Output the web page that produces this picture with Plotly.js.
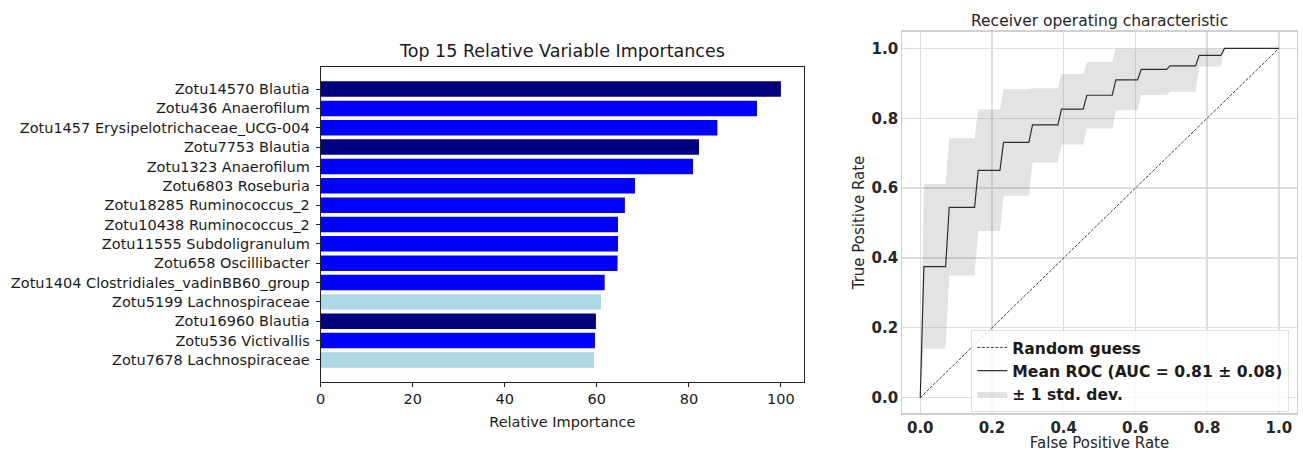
<!DOCTYPE html>
<html>
<head>
<meta charset="utf-8">
<script src="https://cdn.plot.ly/plotly-3.0.1.min.js"></script>
<style>html,body{margin:0;padding:0;background:#fff;}#chart{width:1303px;height:452px;}</style>
</head>
<body>
<div id="chart"></div>
<script>
// ---- Left chart: variable importances (top to bottom) ----
var features = [
  "Zotu14570 Blautia",
  "Zotu436 Anaerofilum",
  "Zotu1457 Erysipelotrichaceae_UCG-004",
  "Zotu7753 Blautia",
  "Zotu1323 Anaerofilum",
  "Zotu6803 Roseburia",
  "Zotu18285 Ruminococcus_2",
  "Zotu10438 Ruminococcus_2",
  "Zotu11555 Subdoligranulum",
  "Zotu658 Oscillibacter",
  "Zotu1404 Clostridiales_vadinBB60_group",
  "Zotu5199 Lachnospiraceae",
  "Zotu16960 Blautia",
  "Zotu536 Victivallis",
  "Zotu7678 Lachnospiraceae"
];
var importance = [100, 94.8, 86.2, 82.2, 80.9, 68.3, 66.1, 64.6, 64.6, 64.5, 61.7, 60.9, 59.8, 59.6, 59.4];
var barColors = ["#000080","#0000ff","#0000ff","#000080","#0000ff","#0000ff","#0000ff","#0000ff","#0000ff","#0000ff","#0000ff","#add8e6","#000080","#0000ff","#add8e6"];
var importanceTicks = [0, 20, 40, 60, 80, 100];

// ---- Right chart: ROC ----
var rocFpr   = [0, 0.0101, 0.0707, 0.0808, 0.1515, 0.1616, 0.2222, 0.2323, 0.3030, 0.3131, 0.3838, 0.3939, 0.4545, 0.4646, 0.5354, 0.5455, 0.6061, 0.6162, 0.6869, 0.6970, 0.7677, 0.7778, 0.8384, 0.8485, 1.0];
var meanTpr  = [0, 0.375, 0.375, 0.545, 0.545, 0.651, 0.651, 0.731, 0.731, 0.781, 0.781, 0.826, 0.826, 0.866, 0.866, 0.910, 0.910, 0.940, 0.940, 0.950, 0.950, 0.980, 0.980, 1.0, 1.0];
var upperTpr = [0, 0.612, 0.612, 0.743, 0.743, 0.825, 0.825, 0.883, 0.883, 0.886, 0.886, 0.927, 0.927, 0.961, 0.961, 1.0, 1.0, 1.0, 1.0, 1.0, 1.0, 1.0, 1.0, 1.0, 1.0];
var lowerTpr = [0, 0.140, 0.140, 0.350, 0.350, 0.477, 0.477, 0.578, 0.578, 0.673, 0.673, 0.725, 0.725, 0.771, 0.771, 0.823, 0.823, 0.867, 0.867, 0.876, 0.876, 0.948, 0.948, 1.0, 1.0];
var chanceX = [0, 1];
var chanceY = [0, 1];
var rocTicks = [0, 0.2, 0.4, 0.6, 0.8, 1.0];

var FONT = "DejaVu Sans, sans-serif";

var traces = [
  {
    type: "bar", orientation: "h",
    x: importance, y: features,
    marker: {color: barColors, line: {width: 0}},
    width: 0.8,
    xaxis: "x", yaxis: "y",
    showlegend: false, hoverinfo: "x+y"
  },
  {
    type: "scatter", mode: "lines",
    x: rocFpr, y: lowerTpr,
    line: {width: 0, color: "rgba(0,0,0,0)"},
    xaxis: "x2", yaxis: "y2",
    showlegend: false, hoverinfo: "skip"
  },
  {
    type: "scatter", mode: "lines",
    x: rocFpr, y: upperTpr,
    fill: "tonexty", fillcolor: "rgba(128,128,128,0.22)",
    line: {width: 0, color: "rgba(0,0,0,0)"},
    name: "± 1 std. dev.", legendrank: 3,
    xaxis: "x2", yaxis: "y2"
  },
  {
    type: "scatter", mode: "lines",
    x: chanceX, y: chanceY,
    line: {color: "rgba(0,0,0,0.85)", width: 0.9, dash: "3px,1.5px"},
    name: "Random guess", legendrank: 1,
    xaxis: "x2", yaxis: "y2"
  },
  {
    type: "scatter", mode: "lines",
    x: rocFpr, y: meanTpr,
    line: {color: "rgba(0,0,0,0.8)", width: 1.2},
    name: "Mean ROC (AUC = 0.81 ± 0.08)", legendrank: 2,
    xaxis: "x2", yaxis: "y2"
  }
];

var layout = {
  width: 1303, height: 452,
  margin: {l: 0, r: 0, t: 0, b: 0},
  paper_bgcolor: "#ffffff", plot_bgcolor: "#ffffff",
  font: {family: FONT, color: "#1a1a1a"},
  bargap: 0.2,
  xaxis: {
    domain: [0.2461, 0.617], anchor: "y",
    range: [0, 105],
    tickvals: importanceTicks,
    ticks: "outside", ticklen: 4, tickcolor: "#222", tickwidth: 1,
    showline: true, mirror: true, linecolor: "#222", linewidth: 1,
    showgrid: false, zeroline: false,
    tickfont: {family: FONT, size: 14.5, color: "#1a1a1a"},
    title: {text: "Relative Importance", font: {family: FONT, size: 14.5, color: "#1a1a1a"}, standoff: 10}
  },
  yaxis: {
    domain: [0.1549, 0.8518], anchor: "x",
    type: "category",
    range: [15.14, -1.14],
    ticks: "outside", ticklen: 4, tickcolor: "#222", tickwidth: 1,
    ticklabelstandoff: 3,
    showline: true, mirror: true, linecolor: "#222", linewidth: 1,
    showgrid: false, zeroline: false,
    tickfont: {family: FONT, size: 14.5, color: "#1a1a1a"}
  },
  xaxis2: {
    domain: [0.6925, 0.9952], anchor: "y2",
    range: [-0.05, 1.05],
    tickvals: rocTicks, tickformat: ".1f",
    ticks: "", showline: true, mirror: true, linecolor: "#d0d0d0", linewidth: 1.2,
    showgrid: true, gridcolor: "#dedede", gridwidth: 1.4, zeroline: false,
    tickfont: {family: FONT, size: 15, color: "#262626", weight: "bold"},
    title: {text: "False Positive Rate", font: {family: FONT, size: 15, color: "#262626"}, standoff: 6}
  },
  yaxis2: {
    domain: [0.0856, 0.9299], anchor: "x2",
    range: [-0.045, 1.048],
    tickvals: rocTicks, tickformat: ".1f",
    ticks: "", showline: true, mirror: true, linecolor: "#d0d0d0", linewidth: 1.2,
    showgrid: true, gridcolor: "#dedede", gridwidth: 1.4, zeroline: false,
    tickfont: {family: FONT, size: 15, color: "#262626", weight: "bold"},
    title: {text: "True Positive Rate", font: {family: FONT, size: 15, color: "#262626"}, standoff: 3}
  },
  legend: {
    x: 0.9895, y: 0.089, xanchor: "right", yanchor: "bottom",
    bgcolor: "rgba(255,255,255,0.8)", bordercolor: "#e0e0e0", borderwidth: 1,
    font: {family: FONT, size: 15.6, color: "#1a1a1a", weight: "bold"},
    traceorder: "normal", tracegroupgap: 0, itemwidth: 30
  },
  annotations: [
    {
      text: "Top 15 Relative Variable Importances",
      xref: "paper", yref: "paper", x: 0.4315, y: (452 - 51) / 452,
      xanchor: "center", yanchor: "middle", showarrow: false,
      font: {family: FONT, size: 17.5, color: "#1a1a1a"}
    },
    {
      text: "Receiver operating characteristic",
      xref: "paper", yref: "paper", x: 0.8438, y: (452 - 21) / 452,
      xanchor: "center", yanchor: "middle", showarrow: false,
      font: {family: FONT, size: 15.5, color: "#262626"}
    }
  ]
};

Plotly.newPlot("chart", traces, layout, {displayModeBar: false, staticPlot: true});
</script>
</body>
</html>
